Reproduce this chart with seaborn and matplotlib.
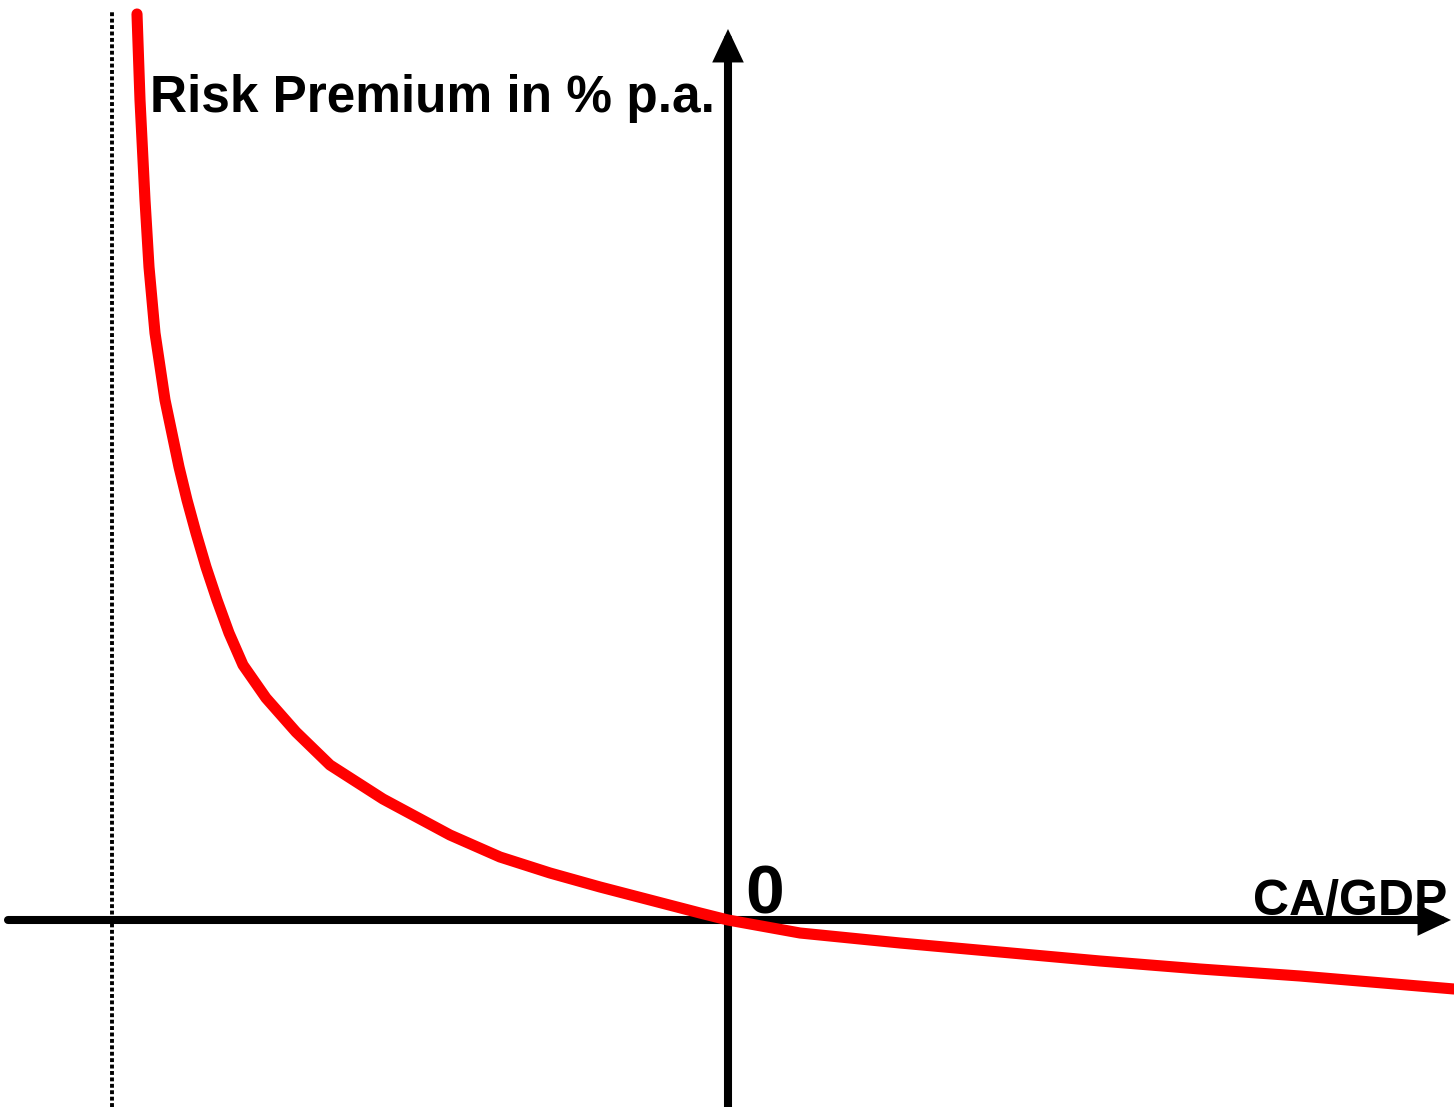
import matplotlib
matplotlib.use("Agg")
import matplotlib.pyplot as plt
import seaborn as sns
import pandas as pd

# Data (CA/GDP vs risk premium, arbitrary units; origin at the axes' crossing)
ca_gdp = [-5.91, -5.88, -5.83, -5.79, -5.73, -5.63, -5.49, -5.41, -5.32, -5.22,
          -5.11, -4.99, -4.85, -4.62, -4.32, -3.98, -3.45, -2.78, -2.28, -1.78,
          -1.28, -0.78, -0.28, 0.0,
          0.72, 1.72, 2.72, 3.72, 4.72, 5.72, 7.26]
risk_premium = [9.06, 8.20, 7.20, 6.53, 5.87, 5.20, 4.53, 4.20, 3.87, 3.53,
                3.20, 2.87, 2.55, 2.22, 1.88, 1.55, 1.21, 0.85, 0.63, 0.47,
                0.33, 0.20, 0.07, 0.0,
                -0.13, -0.23, -0.32, -0.41, -0.49, -0.56, -0.69]
asymptote_x = -6.16

y_label = "Risk Premium in % p.a."
x_label = "CA/GDP"
origin_label = "0"

sns.set_theme(style="white")
plt.rcParams['font.family'] = ['Liberation Sans', 'DejaVu Sans']

fig = plt.figure(figsize=(14.54, 11.07), dpi=100)
ax = fig.add_axes([0, 0, 1, 1])
ax.set_xlim(-7.28, 7.26)
ax.set_ylim(-1.87, 9.20)

# dotted asymptote
ax.plot([asymptote_x, asymptote_x], [-1.87, 9.08], color="black", lw=2.8,
        linestyle=(0, (1.0, 0.65)))

# axes with arrows
arrow_style = "-|>,head_length=0.72,head_width=0.34"
ax.annotate("", xy=(7.23, 0), xytext=(-7.20, 0),
            arrowprops=dict(arrowstyle=arrow_style, lw=5.8, color="black",
                            shrinkA=0, shrinkB=0, mutation_scale=20,
                            joinstyle="miter"))
ax.annotate("", xy=(0, 8.91), xytext=(0, -1.87),
            arrowprops=dict(arrowstyle=arrow_style, lw=5.8, color="black",
                            shrinkA=0, shrinkB=0, mutation_scale=20,
                            joinstyle="miter"))

# curve
df = pd.DataFrame({"x": ca_gdp, "y": risk_premium})
sns.lineplot(data=df, x="x", y="y", ax=ax, color="#ff0000", lw=8.0,
             sort=False, solid_capstyle="round", solid_joinstyle="round",
             zorder=5)
ax.axis("off")

ax.text(-5.78, 8.08, y_label, fontsize=37, fontweight="bold", ha="left",
        va="baseline", color="black")
ax.text(7.19, 0.06, x_label, fontsize=36, fontweight="bold", ha="right",
        va="baseline", color="black")
ax.text(0.17, 0.07, origin_label, fontsize=50, fontweight="bold", ha="left",
        va="baseline", color="black")

fig.savefig("out.png", dpi=100)
